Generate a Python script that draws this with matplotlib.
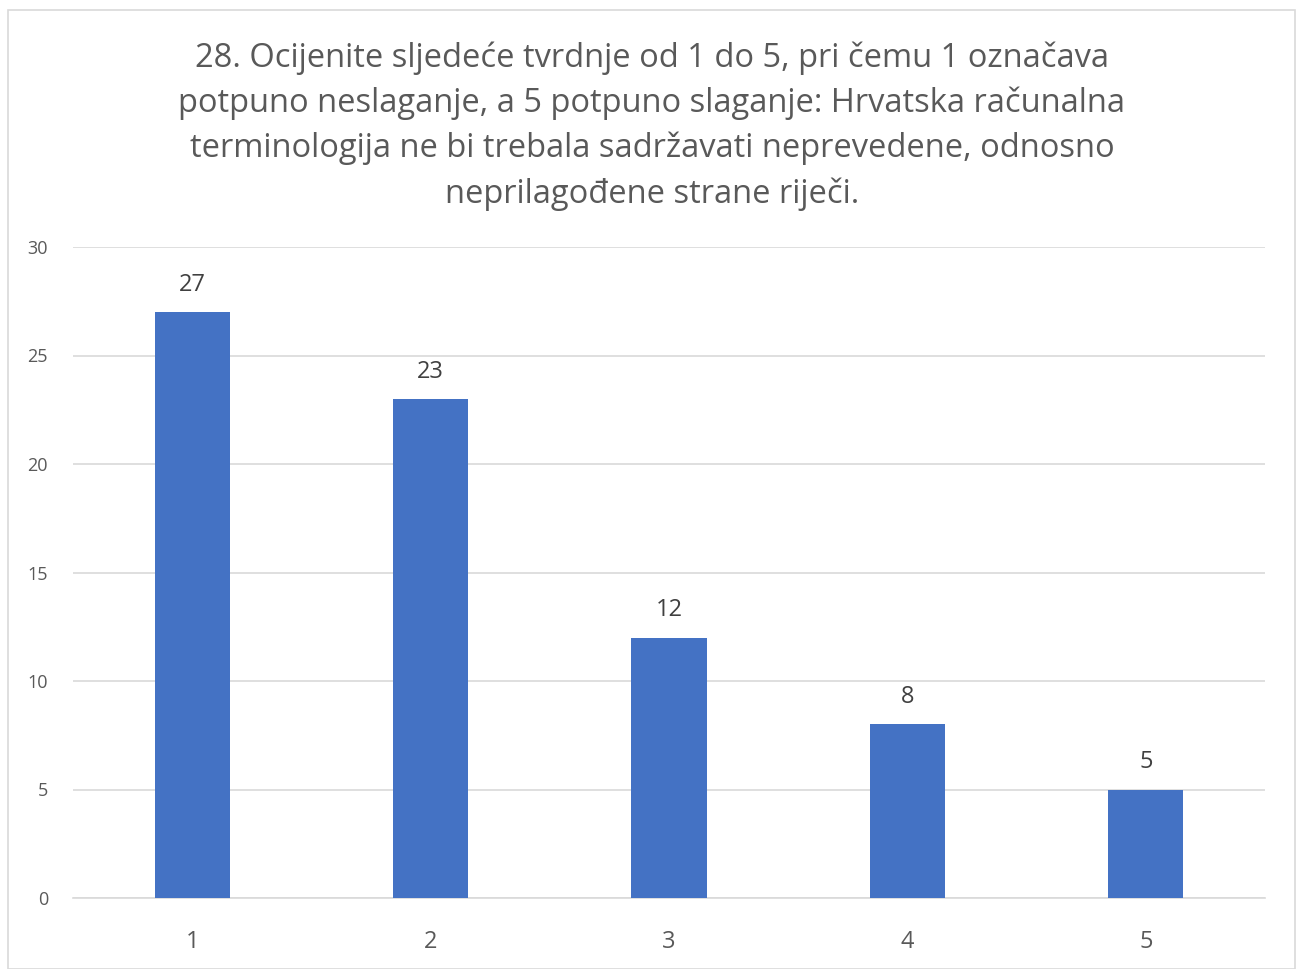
import matplotlib
matplotlib.use("Agg")
import matplotlib.pyplot as plt
from matplotlib.patches import Rectangle

categories = ["1", "2", "3", "4", "5"]
values = [27, 23, 12, 8, 5]
yticks = [0, 5, 10, 15, 20, 25, 30]
title = ("28. Ocijenite sljedeće tvrdnje od 1 do 5, pri čemu 1 označava\n"
         "potpuno neslaganje, a 5 potpuno slaganje: Hrvatska računalna\n"
         "terminologija ne bi trebala sadržavati neprevedene, odnosno\n"
         "neprilagođene strane riječi.")

plt.rcParams['font.family'] = ['Open Sans', 'DejaVu Sans']

fig = plt.figure(figsize=(13, 9.69), dpi=100)
W, H = 1300, 969
ax = fig.add_axes([73 / W, 1 - 898 / H, (1265 - 73) / W, (898 - 247) / H])

x = list(range(len(categories)))
bars = ax.bar(x, values, width=0.315, color="#4472C4", zorder=3)
for xi, v in zip(x, values):
    ax.annotate(str(v), (xi, v), xytext=(0, 11), textcoords="offset points",
                ha="center", va="bottom", fontsize=17, color="#404040")

ax.set_xlim(-0.5, len(categories) - 0.5)
ax.set_ylim(0, 30)
ax.set_yticks(yticks)
ax.set_yticklabels([str(t) for t in yticks], fontsize=13, color="#595959")
ax.set_xticks(x)
ax.set_xticklabels(categories, fontsize=17, color="#595959")
ax.tick_params(axis="both", length=0)
ax.tick_params(axis="y", pad=18)
ax.tick_params(axis="x", pad=23)
ax.grid(axis="y", color="#D9D9D9", linewidth=1.2, zorder=0)
for s in ["top", "right", "left"]:
    ax.spines[s].set_visible(False)
ax.spines["bottom"].set_color("#D9D9D9")
ax.spines["bottom"].set_linewidth(1.2)

fig.text(652 / W, 1 - 126 / H, title, ha="center", va="center", fontsize=23.5,
         color="#595959", linespacing=1.46)

fig.patches.append(Rectangle((8 / W, 0), 1287 / W, 1 - 10 / H, transform=fig.transFigure,
                             fill=False, edgecolor="#D9D9D9", linewidth=1.2))

fig.savefig("out.png", dpi=100)
